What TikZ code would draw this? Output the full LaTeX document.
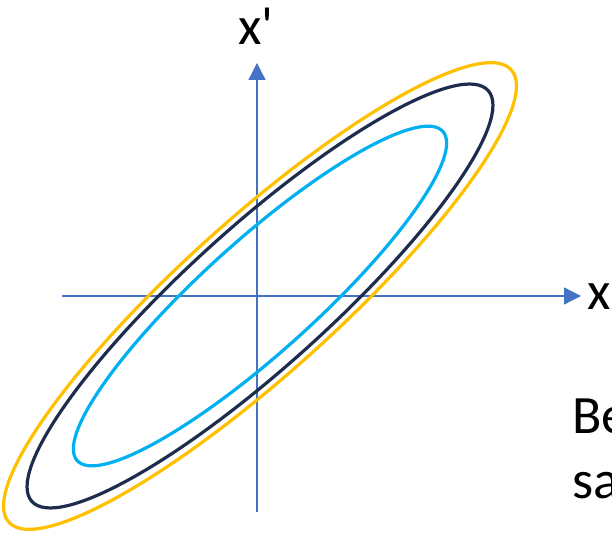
\documentclass[tikz,border=0pt]{standalone}
\usepackage{fontspec}
\setmainfont{Carlito}
\usetikzlibrary{arrows.meta, positioning}

\definecolor{axisblue}{HTML}{4472C4}
\definecolor{gold}{HTML}{FFC000}
\definecolor{navy}{HTML}{1E2D4E}
\definecolor{sky}{HTML}{00B0F0}

\begin{document}
\begin{tikzpicture}[x=1pt, y=1pt,
    axis/.style={draw=axisblue, line width=1.3pt, -{Triangle[length=17pt, width=17pt]}},
    orbit/.style={line width=3.2pt, rotate around={42:(c)}},
    lbl/.style={font=\fontsize{54}{65}\selectfont, inner sep=0pt}
]
\useasboundingbox (0,0) rectangle (612,532);

\coordinate (o) at (257,236);
\coordinate (c) at (260,236);
\coordinate (xs) at (62,236);
\coordinate (xe) at (581,236);
\coordinate (ys) at (257,20);
\coordinate (ye) at (257,469);

\draw[axis] (xs) -- (xe);
\draw[axis] (ys) -- (ye);

\draw[orbit, draw=gold] (c) ellipse [x radius=338pt, y radius=77pt];
\draw[orbit, draw=navy] (c) ellipse [x radius=307pt, y radius=70pt];
\draw[orbit, draw=sky]  (c) ellipse [x radius=246pt, y radius=56pt];

\node[lbl, anchor=base west] (lblx) at (587,222) {x};
\node[lbl, anchor=base west] (lblxp) at (238,487) {x\textquotesingle};
\node[lbl, anchor=base west, align=left] (note) at (572,34) {Be\\sa};
\end{tikzpicture}
\end{document}
